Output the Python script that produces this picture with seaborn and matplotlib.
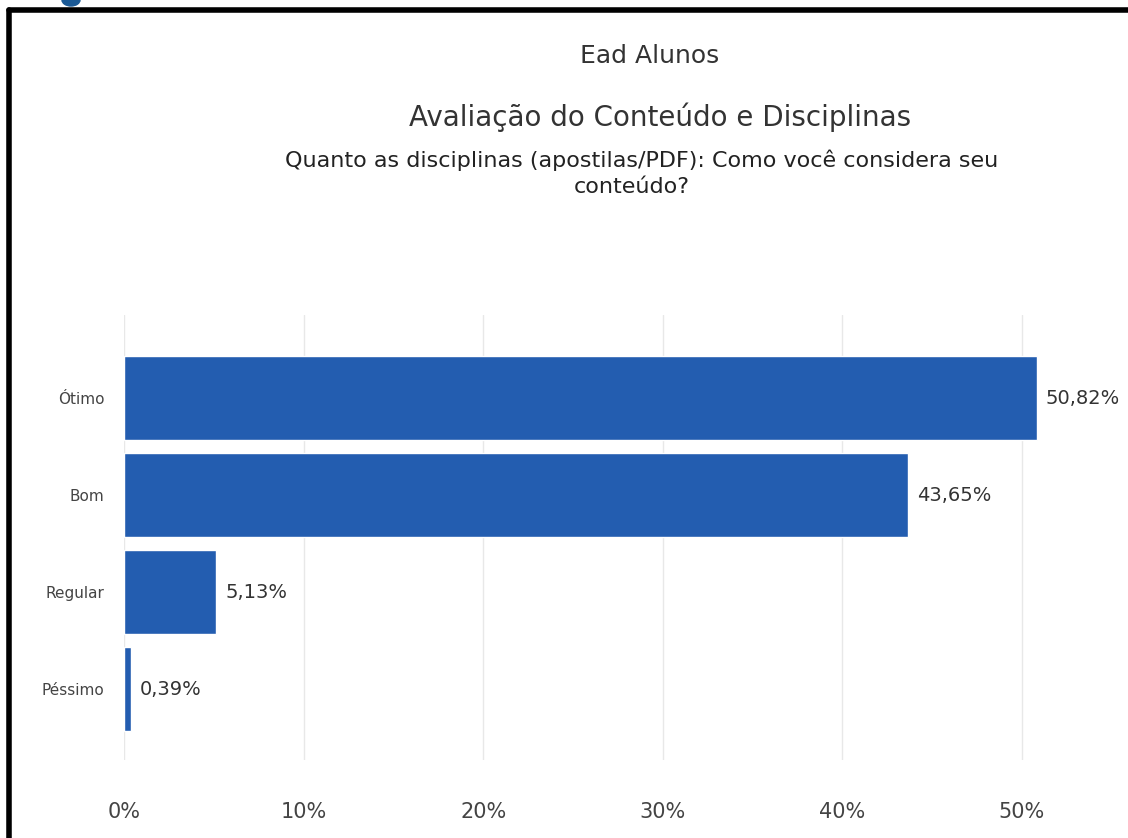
import matplotlib
matplotlib.use("Agg")
import matplotlib.pyplot as plt
import matplotlib.ticker as mtick
from matplotlib.lines import Line2D
from matplotlib.patches import Ellipse
import seaborn as sns
import pandas as pd

# ── Data ────────────────────────────────────────────────────────────────────
categories = ["Ótimo", "Bom", "Regular", "Péssimo"]
percentages = [50.82, 43.65, 5.13, 0.39]
value_labels = ["50,82%", "43,65%", "5,13%", "0,39%"]
x_ticks = [0, 10, 20, 30, 40, 50]

BAR_COLOR = "#235DB0"
TEXT_COLOR = "#333333"

sns.set_theme(style="white")
plt.rcParams["font.family"] = ["DejaVu Sans"]

df = pd.DataFrame({"categoria": categories, "pct": percentages})

W, H = 1128, 838
fig = plt.figure(figsize=(W / 100, H / 100), dpi=100)
ax = fig.add_axes([124 / W, 78 / H, (1110 - 124) / W, (760 - 315) / H])

sns.barplot(data=df, x="pct", y="categoria", order=categories, color=BAR_COLOR,
            saturation=1, width=0.86, ax=ax)

ax.set_xlim(0, (1110 - 124) / 17.96)
ax.set_ylim(3.73, -0.856)
ax.set_xticks(x_ticks)
ax.xaxis.set_major_formatter(mtick.FuncFormatter(lambda v, _: f"{v:.0f}%"))
ax.tick_params(axis="x", labelsize=15, colors="#444444", pad=30, length=0)
ax.tick_params(axis="y", labelsize=11, colors="#444444", pad=14, length=0)
ax.set_xlabel("")
ax.set_ylabel("")
ax.grid(axis="x", color="#e8e8e8", linewidth=1)
ax.set_axisbelow(True)
for s in ax.spines.values():
    s.set_visible(False)

for i, (val, lab) in enumerate(zip(percentages, value_labels)):
    ax.text(val + 0.5, i, lab, va="center", ha="left", fontsize=14, color=TEXT_COLOR)

# ── Titles ──────────────────────────────────────────────────────────────────
fig.text(650 / W, 1 - 56 / H, "Ead Alunos", ha="center", va="center",
         fontsize=18, color=TEXT_COLOR)
fig.text(660 / W, 1 - 117 / H, "Avaliação do Conteúdo e Disciplinas", ha="center",
         va="center", fontsize=20, color=TEXT_COLOR)
fig.text(642 / W, 1 - 160 / H,
         "Quanto as disciplinas (apostilas/PDF): Como você considera seu",
         ha="center", va="center", fontsize=16, color="#222222")
fig.text(632 / W, 1 - 187 / H, "conteúdo?", ha="center", va="center",
         fontsize=16, color="#222222")

# ── Frame (top and left edges visible) + bit of logo above it ─────────────
fig.add_artist(Ellipse((71 / W, 1 - 0 / H), 18 / W, 12 / H, color="#1B5A96",
                       transform=fig.transFigure))
fig.add_artist(Line2D([9 / W, 1], [1 - 10 / H, 1 - 10 / H], color="black",
                      linewidth=4, transform=fig.transFigure))
fig.add_artist(Line2D([9 / W, 9 / W], [0, 1 - 10 / H], color="black",
                      linewidth=4, transform=fig.transFigure))

fig.savefig("out.png", dpi=100)
